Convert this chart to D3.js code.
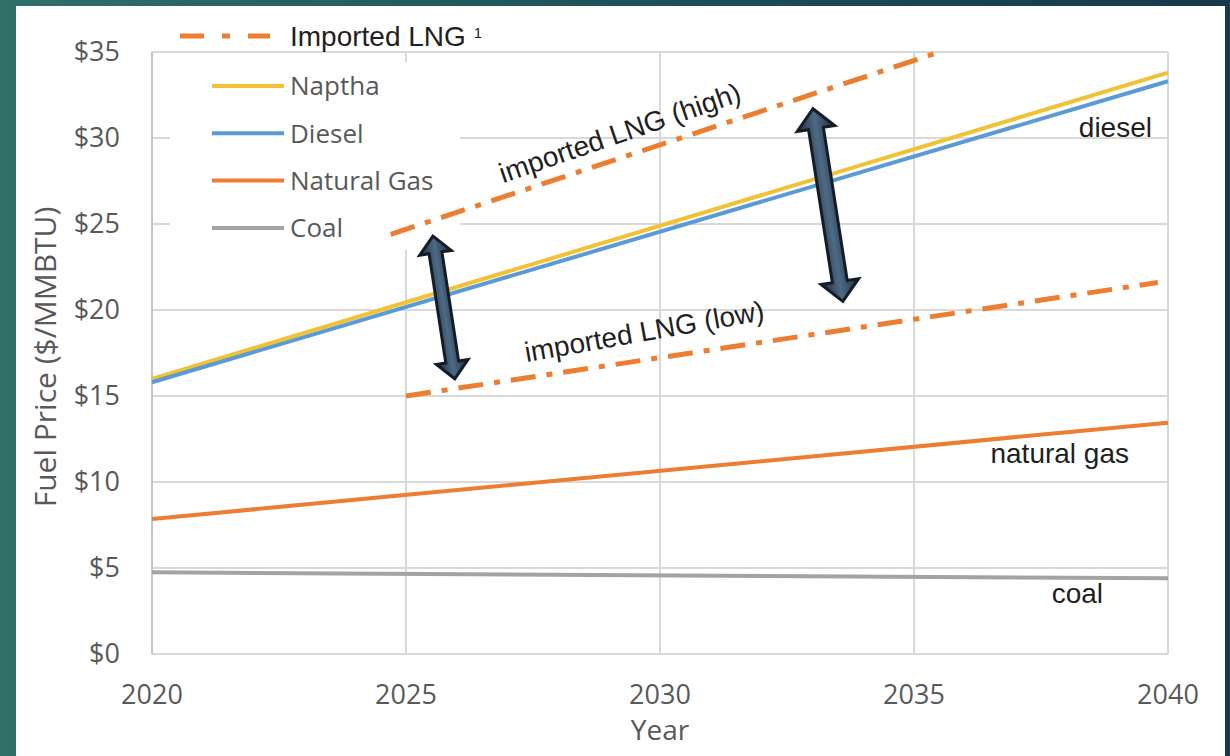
<!DOCTYPE html>
<html>
<head>
<meta charset="utf-8">
<script src="https://cdn.jsdelivr.net/npm/d3@7"></script>
<style>
  html, body { margin: 0; padding: 0; }
  body { width: 1230px; height: 756px; overflow: hidden; }
</style>
</head>
<body>
<svg id="viz"></svg>
<script>
(function() {
  // values
  const years = [2020, 2040];
  const naptha = [16.0, 33.8];
  const diesel = [15.8, 33.3];
  const naturalGas = [7.85, 13.45];
  const coal = [4.75, 4.4];

  const lngHighYears = [2024.7, 2035.5];
  const lngHigh = [24.4, 35.0];
  const lngLowYears = [2025, 2039.8];
  const lngLow = [15.0, 21.6];

  const xTicks = [2020, 2025, 2030, 2035, 2040];
  const yTicks = [0, 5, 10, 15, 20, 25, 30, 35];

  const legendNames = ['Naptha', 'Diesel', 'Natural Gas', 'Coal'];

  // range arrows (from, to) in data units
  const arrowFrom = [[2025.53, 24.3], [2033.01, 31.7]];
  const arrowTo = [[2025.96, 16.0], [2033.60, 20.5]];

  const width = 1230, height = 756;
  const plot = { left: 152, right: 1168, top: 52, bottom: 654 };

  const color = {
    naptha: '#f2c134',
    diesel: '#5b9bd5',
    gas: '#ed7d31',
    coal: '#a3a3a3',
    lng: '#ed7d31'
  };

  const svg = d3.select('#viz').attr('width', width).attr('height', height);
  const defs = svg.append('defs');

  const bg = defs.append('linearGradient').attr('id', 'bg')
    .attr('x1', '0').attr('y1', '0').attr('x2', '1').attr('y2', '0');
  bg.append('stop').attr('offset', '0').attr('stop-color', '#2f7068');
  bg.append('stop').attr('offset', '0.5').attr('stop-color', '#1e5258');
  bg.append('stop').attr('offset', '1').attr('stop-color', '#16384a');

  svg.append('rect').attr('width', width).attr('height', height).attr('fill', 'url(#bg)');
  svg.append('rect').attr('x', 16).attr('y', 6).attr('width', 1209).attr('height', 750).attr('fill', '#fff');

  const x = d3.scaleLinear().domain([2020, 2040]).range([plot.left, plot.right]);
  const y = d3.scaleLinear().domain([0, 35]).range([plot.bottom, plot.top]);

  // grid
  const grid = svg.append('g');
  grid.selectAll('line.h').data(yTicks).join('line')
    .attr('x1', plot.left).attr('x2', plot.right)
    .attr('y1', d => y(d)).attr('y2', d => y(d))
    .attr('stroke', '#d9d9d9').attr('stroke-width', 2);
  grid.selectAll('line.v').data(xTicks).join('line')
    .attr('y1', plot.top).attr('y2', plot.bottom)
    .attr('x1', d => x(d)).attr('x2', d => x(d))
    .attr('stroke', d => d === 2020 ? '#c4c4c4' : '#d9d9d9').attr('stroke-width', 2);

  // legend box covers the grid
  svg.append('rect').attr('x', 170).attr('y', 62).attr('width', 290).attr('height', 188).attr('fill', '#fff');

  // axis labels
  const tickFont = "'Open Sans', sans-serif";
  svg.append('g').selectAll('text').data(yTicks).join('text')
    .attr('x', 120).attr('y', d => y(d)).attr('dy', '0.35em')
    .attr('text-anchor', 'end').attr('font-family', tickFont).attr('font-size', 27)
    .attr('fill', '#595959').text(d => '$' + d);
  svg.append('g').selectAll('text').data(xTicks).join('text')
    .attr('x', d => x(d)).attr('y', 704)
    .attr('text-anchor', 'middle').attr('font-family', tickFont).attr('font-size', 27)
    .attr('fill', '#595959').text(d => d);

  svg.append('text').attr('x', x(2030)).attr('y', 740).attr('text-anchor', 'middle')
    .attr('font-family', tickFont).attr('font-size', 28).attr('fill', '#595959').text('Year');
  svg.append('text').attr('transform', 'translate(56,357) rotate(-90)').attr('text-anchor', 'middle')
    .attr('font-family', tickFont).attr('font-size', 30).attr('fill', '#595959')
    .text('Fuel Price ($/MMBTU)');

  const line = d3.line().x(d => x(d[0])).y(d => y(d[1]));
  const pairs = (xs, vs) => xs.map((v, i) => [v, vs[i]]);

  const series = [
    { vals: coal, c: color.coal },
    { vals: naturalGas, c: color.gas },
    { vals: naptha, c: color.naptha },
    { vals: diesel, c: color.diesel }
  ];
  series.forEach(s => {
    svg.append('path').datum(pairs(years, s.vals)).attr('d', line)
      .attr('fill', 'none').attr('stroke', s.c).attr('stroke-width', 4);
  });

  const dash = '25,11,6,11';
  [[lngHighYears, lngHigh], [lngLowYears, lngLow]].forEach(([xs, vs]) => {
    svg.append('path').datum(pairs(xs, vs)).attr('d', line)
      .attr('fill', 'none').attr('stroke', color.lng).attr('stroke-width', 5)
      .attr('stroke-dasharray', dash);
  });

  // double arrows
  function arrowPoints(p0, p1, h, hw, sw) {
    const dx = p1[0] - p0[0], dy = p1[1] - p0[1];
    const L = Math.hypot(dx, dy);
    const u = [dx / L, dy / L], n = [-u[1], u[0]];
    const P = (p, a, b) => [p[0] + u[0] * a + n[0] * b, p[1] + u[1] * a + n[1] * b];
    return [p0, P(p0, h, hw), P(p0, h, sw), P(p1, -h, sw), P(p1, -h, hw), p1,
      P(p1, -h, -hw), P(p1, -h, -sw), P(p0, h, -sw), P(p0, h, -hw)];
  }
  arrowFrom.forEach((f, i) => {
    const p0 = [x(f[0]), y(f[1])];
    const p1 = [x(arrowTo[i][0]), y(arrowTo[i][1])];
    const big = i === 1;
    const h = big ? 20 : 17, hw = big ? 19 : 16, sw = big ? 7.5 : 6.5;
    const mid = [(p0[0] + p1[0]) / 2, (p0[1] + p1[1]) / 2];
    const dx = p1[0] - p0[0], dy = p1[1] - p0[1], L = Math.hypot(dx, dy);
    const n = [-dy / L, dx / L];
    const g = defs.append('linearGradient').attr('id', 'ag' + i)
      .attr('gradientUnits', 'userSpaceOnUse')
      .attr('x1', mid[0] - n[0] * hw).attr('y1', mid[1] - n[1] * hw)
      .attr('x2', mid[0] + n[0] * hw).attr('y2', mid[1] + n[1] * hw);
    g.append('stop').attr('offset', '0').attr('stop-color', '#1f2c3b');
    g.append('stop').attr('offset', '0.5').attr('stop-color', '#4d6a86');
    g.append('stop').attr('offset', '1').attr('stop-color', '#1f2c3b');
    svg.append('polygon').attr('points', arrowPoints(p0, p1, h, hw, sw).map(p => p.join(',')).join(' '))
      .attr('fill', 'url(#ag' + i + ')').attr('stroke', '#141d27').attr('stroke-width', 3)
      .attr('stroke-linejoin', 'miter');
  });

  // series labels
  const labelFont = "'Liberation Sans', Arial, sans-serif";
  const lbl = (t, px, py, anchor, rot) => svg.append('text')
    .attr('transform', `translate(${px},${py}) rotate(${rot || 0})`)
    .attr('text-anchor', anchor).attr('font-family', labelFont).attr('font-size', 28)
    .attr('fill', '#1f1f1f').text(t);
  lbl('diesel', 1152, 137, 'end');
  lbl('natural gas', 1129, 463, 'end');
  lbl('coal', 1103, 603, 'end');
  lbl('imported LNG (high)', 623, 142, 'middle', -19);
  lbl('imported LNG (low)', 646, 341, 'middle', -10);

  // legend
  const legColors = [color.naptha, color.diesel, color.gas, color.coal];
  legendNames.forEach((name, i) => {
    const ly = 86 + i * 47.3;
    svg.append('line').attr('x1', 212).attr('x2', 284).attr('y1', ly).attr('y2', ly)
      .attr('stroke', legColors[i]).attr('stroke-width', 4);
    svg.append('text').attr('x', 290).attr('y', ly).attr('dy', '0.36em')
      .attr('font-family', tickFont).attr('font-size', 26).attr('fill', '#595959').text(name);
  });
  svg.append('line').attr('x1', 180).attr('x2', 270).attr('y1', 36).attr('y2', 36)
    .attr('stroke', color.lng).attr('stroke-width', 5).attr('stroke-dasharray', '24,18,8,18');
  const lt = svg.append('text').attr('x', 290).attr('y', 46)
    .attr('font-family', labelFont).attr('font-size', 28).attr('fill', '#1f1f1f');
  lt.append('tspan').text('Imported LNG ');
  lt.append('tspan').attr('font-size', 15).attr('dy', -8).text('1');
})();
</script>
</body>
</html>
